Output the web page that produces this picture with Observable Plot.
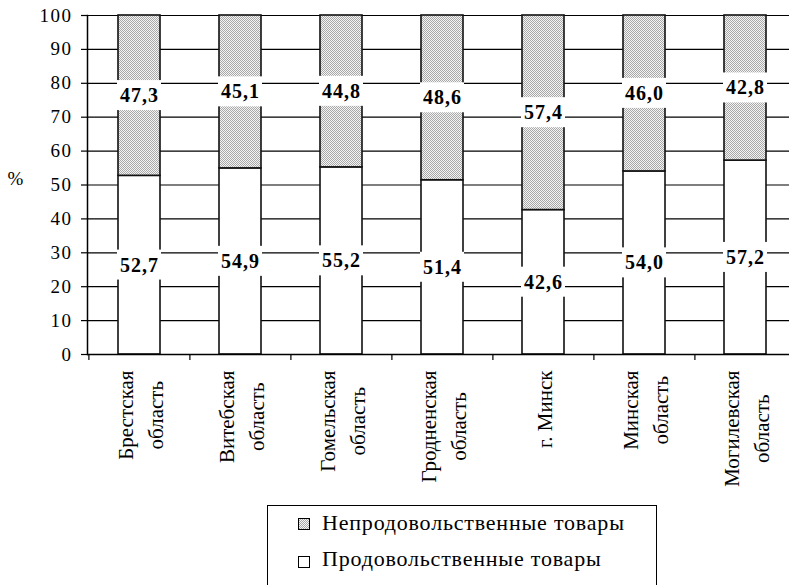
<!DOCTYPE html>
<html>
<head>
<meta charset="utf-8">
<script src="https://cdn.jsdelivr.net/npm/d3@7"></script>
<script src="https://cdn.jsdelivr.net/npm/@observablehq/plot@0.6"></script>
<style>
  body { margin: 0; background: #fff; }
  #wrap { position: relative; width: 789px; height: 585px; overflow: hidden; background: #fff;
          font-family: "Liberation Serif", "DejaVu Serif", "Noto Serif", "Times New Roman", Times, serif; color: #000; }
  #chart svg { display: block; }
  g[aria-label="y-axis tick label"] text { letter-spacing: 1.5px; }
  text[aria-label="values"] { letter-spacing: 1px; }
  #legend { position: absolute; left: 267px; top: 505px; width: 390px; height: 110px;
            border: 1px solid #000; box-sizing: border-box; background: #fff; }
  .item { position: absolute; font-size: 22px; letter-spacing: 0.8px; line-height: 1; white-space: nowrap; }
  .sw { position: absolute; left: 30px; width: 12px; height: 12px; border: 1px solid #000; box-sizing: border-box; }
  .lbl { left: 54px; }
</style>
</head>
<body>
<div id="wrap">
  <div id="chart"></div>
  <div id="legend"></div>
</div>
<script>
// ---- data ----
const regions = ["Брестская область", "Витебская область", "Гомельская область", "Гродненская область", "г. Минск", "Минская область", "Могилевская область"];
const tickLabels = [["Брестская", "область"], ["Витебская", "область"], ["Гомельская", "область"], ["Гродненская", "область"], ["г. Минск"], ["Минская", "область"], ["Могилевская", "область"]];
const seriesNames = ["Непродовольственные товары", "Продовольственные товары"];
const food = [52.7, 54.9, 55.2, 51.4, 42.6, 54.0, 57.2];
const nonFood = [47.3, 45.1, 44.8, 48.6, 57.4, 46.0, 42.8];
const yTicks = [0, 10, 20, 30, 40, 50, 60, 70, 80, 90, 100];
const yLabel = "%";

// ---- table for the library ----
const rows = regions.flatMap((r, i) => [
  {region: r, series: seriesNames[1], value: food[i]},
  {region: r, series: seriesNames[0], value: nonFood[i]}
]);
const fmt = v => v.toFixed(1).replace(".", ",");

// ---- layout ----
const x0 = 87.5, x1 = 796;
const step = (x1 - x0) / regions.length;
const serif = "'Liberation Serif', 'DejaVu Serif', 'Noto Serif', 'Times New Roman', Times, serif";

const ctx = document.createElement("canvas").getContext("2d");
ctx.font = "21px " + serif;
const measure = s => ctx.measureText(s).width;

const xLabelMarks = tickLabels.map((lines, i) => {
  const maxLen = Math.max(...lines.map(measure));
  return Plot.text([lines.join("\n")], {
    x: () => regions[i], text: d => d,
    frameAnchor: "bottom", rotate: -90,
    textAnchor: "middle", lineAnchor: "middle", lineHeight: 1.4,
    fontSize: 21, dx: -1, dy: 16 + maxLen / 2, fill: "#000"
  });
});

const chart = Plot.plot({
  width: 789, height: 500,
  marginLeft: 87, marginRight: 0, marginTop: 15, marginBottom: 146,
  style: {fontFamily: serif, background: "transparent", overflow: "visible", color: "#000"},
  x: {domain: regions, range: [x0, x1], paddingInner: 0.585, paddingOuter: 0.2925, axis: null},
  y: {domain: [0, 100], axis: null},
  color: {domain: seriesNames, range: ["url(#dots)", "#ffffff"]},
  marks: [
    Plot.ruleY(yTicks.filter(v => v > 0), {stroke: "#000", strokeWidth: 1.2}),
    Plot.barY(rows, {x: "region", y: "value", fill: "series", stroke: "#111", strokeWidth: 1.6}),
    Plot.ruleY([0], {stroke: "#000", strokeWidth: 1.5}),
    Plot.frame({anchor: "left", stroke: "#000", strokeWidth: 1.5}),
    Plot.axisX({tickSize: 6, dx: -step / 2, tickFormat: () => "", label: null, stroke: "#000", strokeWidth: 1.2}),
    Plot.axisY({ticks: yTicks, tickSize: 6, tickPadding: 9, fontSize: 19, stroke: "#000", strokeWidth: 1.2, fill: "#000", label: null}),
    Plot.text([yLabel], {frameAnchor: "left", dx: -72, dy: -6, fontSize: 19, textAnchor: "middle", fill: "#000"}),
    ...xLabelMarks,
    Plot.text(rows, Plot.stackY({x: "region", y: "value", text: d => fmt(d.value),
      fontWeight: "bold", fontSize: 20, fill: "#000", ariaLabel: () => "values"}))
  ]
});

document.getElementById("chart").appendChild(chart);

// pattern for the non-food segments
const ns = "http://www.w3.org/2000/svg";
const defs = document.createElementNS(ns, "defs");
defs.innerHTML = '<pattern id="dots" width="2" height="2" patternUnits="userSpaceOnUse">' +
  '<rect width="2" height="2" fill="#f4f4f4"/><rect width="1" height="1" fill="#a8a8a8"/>' +
  '<rect x="1" y="1" width="1" height="1" fill="#a8a8a8"/></pattern>';
chart.insertBefore(defs, chart.firstChild);

// white boxes behind value labels
chart.querySelectorAll('text[aria-label="values"]').forEach(t => {
  const b = t.getBBox();
  const r = document.createElementNS(ns, "rect");
  r.setAttribute("x", b.x - 3);
  r.setAttribute("y", b.y - 4);
  r.setAttribute("width", b.width + 5);
  r.setAttribute("height", b.height + 8);
  r.setAttribute("fill", "#fff");
  r.setAttribute("stroke", "none");
  const tr = t.getAttribute("transform");
  if (tr) r.setAttribute("transform", tr);
  t.parentNode.insertBefore(r, t);
});

// legend
const legend = document.getElementById("legend");
const swatches = [
  "background:#d0d0d0 repeating-conic-gradient(#a8a8a8 0 25%, #f4f4f4 0 50%) 0 0/2px 2px;",
  "background:#fff;"
];
const tops = [12, 50];
seriesNames.forEach((name, i) => {
  const sw = document.createElement("div");
  sw.className = "sw";
  sw.style.cssText = swatches[i] + "top:" + tops[i] + "px;";
  legend.appendChild(sw);
  const lb = document.createElement("div");
  lb.className = "item lbl";
  lb.style.top = (tops[i] - 6 - i * 2) + "px";
  lb.textContent = name;
  legend.appendChild(lb);
});
</script>
</body>
</html>
